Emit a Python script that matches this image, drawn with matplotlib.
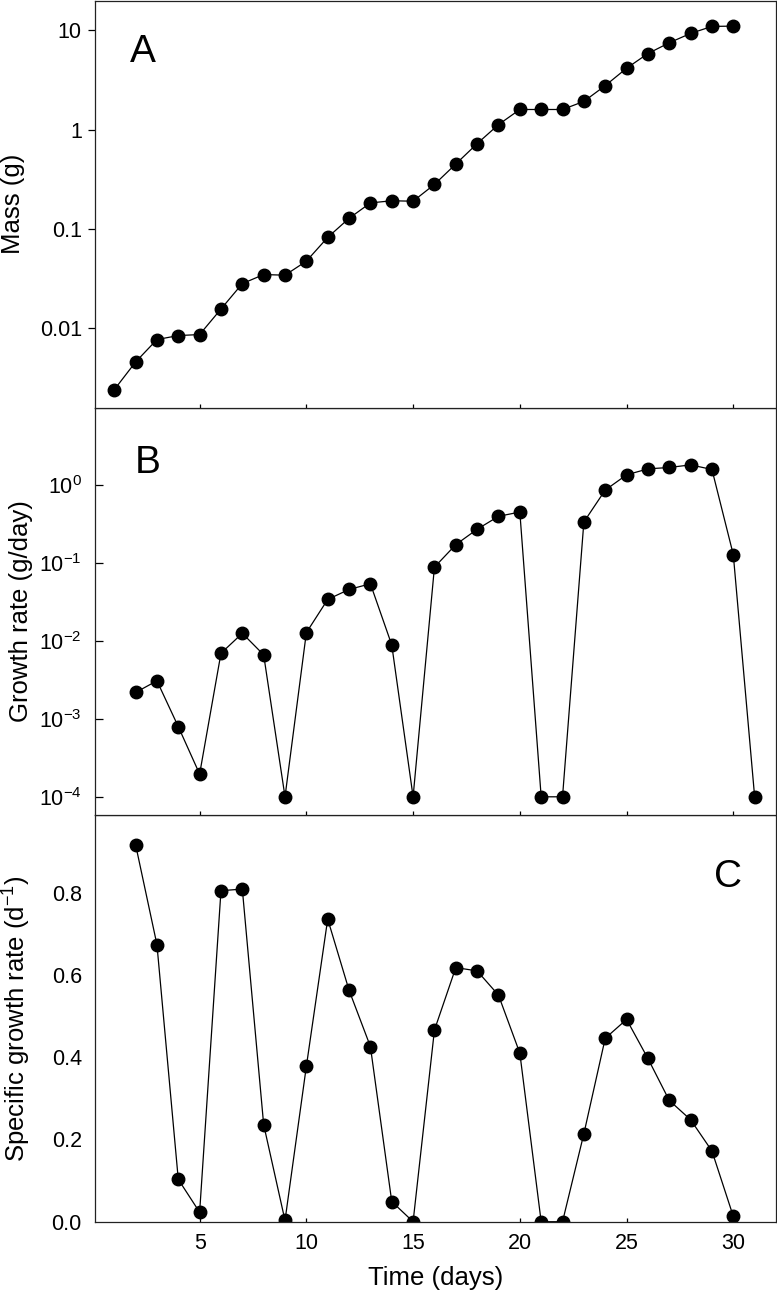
import matplotlib.pyplot as plt

# fonts: Liberation Sans is metric compatible with Arial
plt.rcParams['font.family'] = ['Liberation Sans', 'DejaVu Sans']
plt.rcParams['mathtext.fontset'] = 'custom'
plt.rcParams['mathtext.rm'] = 'Liberation Sans'
plt.rcParams['mathtext.it'] = 'Liberation Sans:italic'

# panel A: body mass (g)
days_mass = [1, 2, 3, 4, 5, 6, 7, 8, 9, 10, 11, 12, 13, 14, 15,
             16, 17, 18, 19, 20, 21, 22, 23, 24, 25, 26, 27, 28, 29, 30]
mass = [0.00242, 0.0046, 0.00774, 0.00849, 0.00869, 0.0157, 0.0283, 0.0349,
        0.0344, 0.0476, 0.0826, 0.1285, 0.1836, 0.193, 0.191, 0.282, 0.452,
        0.725, 1.127, 1.60, 1.60, 1.60, 1.93, 2.78, 4.16, 5.85, 7.51, 9.33,
        10.97, 11.05]

# panel B: growth rate (g/day)
days_rate = [2, 3, 4, 5, 6, 7, 8, 9, 10, 11, 12, 13, 14, 15, 16,
             17, 18, 19, 20, 21, 22, 23, 24, 25, 26, 27, 28, 29, 30, 31]
growth_rate = [0.00219, 0.00309, 0.000797, 0.000196, 0.00698, 0.0126, 0.00666,
               0.0001, 0.01285, 0.0343, 0.0461, 0.0545, 0.00894, 0.0001,
               0.0891, 0.1735, 0.2733, 0.401, 0.455, 0.0001, 0.0001, 0.339,
               0.871, 1.367, 1.632, 1.70, 1.836, 1.603, 0.129, 0.0001]

# panel C: specific growth rate (1/d)
days_sgr = [2, 3, 4, 5, 6, 7, 8, 9, 10, 11, 12, 13, 14, 15, 16,
            17, 18, 19, 20, 21, 22, 23, 24, 25, 26, 27, 28, 29, 30]
sgr = [0.917, 0.674, 0.103, 0.023, 0.805, 0.809, 0.236, 0.003, 0.378, 0.736,
       0.563, 0.426, 0.049, 0.0, 0.466, 0.618, 0.610, 0.551, 0.410, 0.0, 0.0,
       0.214, 0.446, 0.492, 0.397, 0.295, 0.248, 0.172, 0.013]

x_ticks = [5, 10, 15, 20, 25, 30]
rate_ticks = [1e-4, 1e-3, 1e-2, 1e-1, 1e0]
rate_labels = [r'$\mathregular{10^{-4}}$', r'$\mathregular{10^{-3}}$',
               r'$\mathregular{10^{-2}}$', r'$\mathregular{10^{-1}}$',
               r'$\mathregular{10^{0}}$']

fig = plt.figure(figsize=(7.77, 12.92), dpi=100)
left, width = 0.1223, 0.8764
h = 0.31507
bottom0 = 0.0544
axC = fig.add_axes([left, bottom0, width, h])
axB = fig.add_axes([left, bottom0 + h, width, h], sharex=axC)
axA = fig.add_axes([left, bottom0 + 2 * h, width, h], sharex=axC)

style = dict(color='black', lw=0.9, marker='o', ms=9, mfc='black', mec='black')
axA.plot(days_mass, mass, **style)
axB.plot(days_rate, growth_rate, **style)
axC.plot(days_sgr, sgr, **style)

for ax in (axA, axB, axC):
    for s in ax.spines.values():
        s.set_linewidth(0.9)
        s.set_color('#222222')
    ax.tick_params(axis='x', direction='in', length=3, width=0.9, top=False,
                   labelsize=15.5, pad=8)
    ax.tick_params(axis='y', labelsize=15.5, width=0.9, right=False)
    ax.minorticks_off()

axC.set_xlim(0.1, 32)
axC.set_xticks(x_ticks)
axA.tick_params(axis='x', labelbottom=False)
axB.tick_params(axis='x', labelbottom=False)

# A
axA.set_yscale('log')
axA.set_ylim(0.0016, 20)
axA.set_yticks([0.01, 0.1, 1, 10])
axA.set_yticklabels(['0.01', '0.1', '1', '10'])
axA.yaxis.set_minor_locator(plt.NullLocator())
axA.tick_params(axis='y', direction='out', length=5, pad=4.5)
axA.set_ylabel('Mass (g)', fontsize=18.5)
axA.yaxis.set_label_coords(-0.103, 0.5)
axA.text(0.0705, 0.873, 'A', transform=axA.transAxes, fontsize=28,
         ha='center', va='center')

# B
axB.set_yscale('log')
axB.set_ylim(5.9e-5, 10)
axB.set_yticks(rate_ticks)
axB.set_yticklabels(rate_labels)
axB.yaxis.set_minor_locator(plt.NullLocator())
axB.tick_params(axis='y', direction='in', length=5.5, pad=9.5)
axB.set_ylabel('Growth rate (g/day)', fontsize=18.5)
axB.yaxis.set_label_coords(-0.091, 0.5)
axB.text(0.077, 0.864, 'B', transform=axB.transAxes, fontsize=28,
         ha='center', va='center')

# C
axC.set_ylim(0, 0.99)
axC.set_yticks([0.0, 0.2, 0.4, 0.6, 0.8])
axC.set_yticklabels(['0.0', '0.2', '0.4', '0.6', '0.8'])
axC.tick_params(axis='y', direction='in', length=0, pad=9.5)
axC.set_ylabel(r'Specific growth rate (d$\mathregular{^{-1}}$)', fontsize=18.5)
axC.yaxis.set_label_coords(-0.091, 0.5)
axC.set_xlabel('Time (days)', fontsize=18.5, labelpad=9)
axC.text(0.929, 0.847, 'C', transform=axC.transAxes, fontsize=28,
         ha='center', va='center')

fig.savefig('out.png', dpi=100)
